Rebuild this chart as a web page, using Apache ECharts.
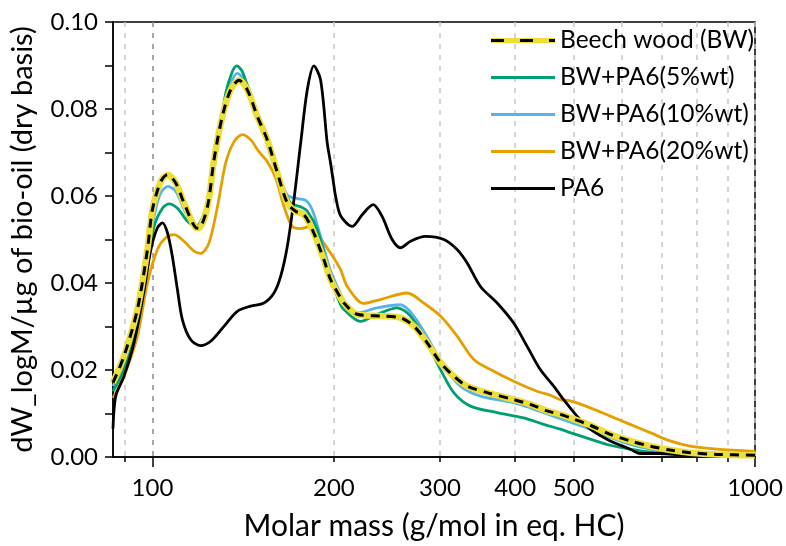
<!DOCTYPE html>
<html><head><meta charset="utf-8">
<script src="https://cdn.jsdelivr.net/npm/echarts@6/dist/echarts.min.js"></script>
<style>html,body{margin:0;padding:0;background:#fff}#c{width:786px;height:546px}</style>
</head><body><div id="c"></div>
<script>
// ---- data: [molar mass (g/mol), dW/dlogM] ----
const seriesNames = ['Beech wood (BW)', 'BW+PA6(5%wt)', 'BW+PA6(10%wt)', 'BW+PA6(20%wt)', 'PA6'];
const bwData = [[86,0.0171],[89.7,0.0232],[94.4,0.0339],[98.1,0.0477],[100,0.0569],[103.2,0.0633],[105.9,0.0649],[109.3,0.0630],[112.8,0.0584],[118,0.0527],[119.3,0.0526],[123.4,0.0576],[126.5,0.0683],[130.6,0.0783],[134.8,0.0844],[139.2,0.0866],[143.7,0.0844],[149.3,0.0783],[155.1,0.0729],[161.2,0.0653],[167.4,0.0584],[172.8,0.0565],[178.4,0.0557],[184.2,0.0523],[192.5,0.0454],[197.5,0.0408],[205.2,0.0366],[207.8,0.0354],[218.6,0.0328],[239,0.0324],[258,0.0320],[271.5,0.0301],[285.6,0.0263],[300.6,0.0217],[316.2,0.0186],[332.9,0.0163],[359.3,0.0148],[397.6,0.0132],[423.7,0.0121],[451.6,0.0106],[475.2,0.0098],[493.6,0.0090],[532.8,0.0073],[575.1,0.0052],[620.6,0.0037],[669.9,0.0025],[722.9,0.0016],[780.2,0.0010],[864.3,0.0006],[1000,0.0004]];
const pa5Data = [[86,0.0151],[89.7,0.0201],[94.4,0.0301],[98.1,0.0438],[100.6,0.0530],[103.9,0.0572],[106.5,0.0582],[110,0.0572],[114.3,0.0542],[118,0.0530],[123.4,0.0584],[128.2,0.0714],[132.3,0.0836],[135.7,0.0886],[138,0.0899],[141,0.0886],[145.6,0.0829],[151.2,0.0771],[157.1,0.0706],[163.2,0.0630],[169.5,0.0584],[176.2,0.0575],[180.7,0.0565],[187.7,0.0523],[195,0.0440],[197.5,0.0410],[205.2,0.0350],[207.8,0.0339],[221.4,0.0312],[236,0.0328],[254.7,0.0343],[268.1,0.0324],[285.6,0.0263],[300.6,0.0201],[316.2,0.0148],[337.1,0.0117],[373.3,0.0102],[413,0.0090],[445.8,0.0075],[475.2,0.0064],[493.6,0.0056],[532.8,0.0041],[575.1,0.0027],[620.6,0.0018],[669.9,0.0011],[722.9,0.0008],[780.2,0.0005],[1000,0.0003]];
const pa10Data = [[86,0.0163],[89.7,0.0217],[94.4,0.0324],[98.1,0.0465],[100.6,0.0553],[103.2,0.0607],[106.1,0.0622],[109.3,0.0611],[113.6,0.0561],[118,0.0530],[119.3,0.0528],[123.4,0.0578],[126.5,0.0686],[130.6,0.0790],[134.8,0.0858],[138.3,0.0882],[143.7,0.0855],[149.3,0.0790],[155.1,0.0737],[161.2,0.0660],[167.4,0.0602],[173.9,0.0594],[179.6,0.0590],[184.2,0.0568],[190.1,0.0507],[197.5,0.0428],[205.2,0.0375],[207.8,0.0360],[218.6,0.0331],[236,0.0343],[258,0.0350],[271.5,0.0324],[289.3,0.0263],[304.4,0.0209],[324.4,0.0163],[350.2,0.0140],[397.6,0.0125],[423.7,0.0113],[475.2,0.0088],[493.6,0.0080],[532.8,0.0064],[575.1,0.0045],[620.6,0.0029],[669.9,0.0018],[722.9,0.0011],[780.2,0.0008],[1000,0.0004]];
const pa20Data = [[86,0.0136],[89.7,0.0186],[94.4,0.0278],[98.1,0.0400],[101.9,0.0477],[105.2,0.0504],[108.6,0.0511],[112.8,0.0496],[117.2,0.0473],[120.2,0.0468],[124.1,0.0492],[128.2,0.0576],[132.3,0.0676],[136.6,0.0725],[141,0.0741],[145.6,0.0729],[150.2,0.0702],[155.1,0.0679],[160.2,0.0641],[165.3,0.0576],[170.6,0.0530],[176.2,0.0525],[183,0.0530],[188.9,0.0507],[197.5,0.0469],[205.2,0.0431],[210.5,0.0392],[224.2,0.0353],[239,0.0362],[264.7,0.0377],[281.9,0.0354],[300.6,0.0324],[320.3,0.0278],[341.4,0.0224],[363.8,0.0201],[397.6,0.0174],[434.7,0.0151],[457.4,0.0142],[475.2,0.0132],[493.6,0.0129],[532.8,0.0113],[575.1,0.0094],[620.6,0.0075],[669.9,0.0056],[722.9,0.0037],[780.2,0.0025],[864.3,0.0018],[1000,0.0013]];
const pa6Data = [[86,0.0065],[86.9,0.0140],[89.7,0.0186],[93.2,0.0263],[96.9,0.0385],[99.4,0.0477],[101.9,0.0527],[103.9,0.0538],[105.9,0.0515],[107.9,0.0461],[110,0.0385],[112.1,0.0316],[115.7,0.0270],[120.2,0.0256],[124.9,0.0266],[131.5,0.0301],[138.3,0.0335],[145.6,0.0347],[153.1,0.0354],[159.1,0.0377],[163.2,0.0415],[167.4,0.0484],[171.7,0.0591],[176.2,0.0722],[180.7,0.0844],[185.3,0.0899],[190.1,0.0867],[195,0.0722],[197.5,0.0676],[200,0.0625],[201.3,0.0600],[205.2,0.0555],[214.5,0.0530],[222.9,0.0557],[232.4,0.0580],[240.5,0.0553],[249.9,0.0500],[258,0.0481],[268.1,0.0496],[283.8,0.0507],[304.4,0.0500],[320.3,0.0477],[332.9,0.0446],[350.2,0.0392],[373.3,0.0354],[397.6,0.0308],[418.4,0.0255],[440.2,0.0201],[463.3,0.0163],[481.2,0.0132],[506.5,0.0094],[532.8,0.0064],[575.1,0.0037],[620.6,0.0018],[644.8,0.0008],[695.9,0.0008],[751.1,0.0005],[810.5,0.0003],[1000,0.0002]];
const xTickValues = [90,100,200,300,400,500,600,700,800,900,1000];
const xLabelValues = [100,200,300,400,500,1000];
const xLongTicks = [100,1000];
const xTitle = 'Molar mass (g/mol in eq. HC)';
const yTitle = 'dW_logM/\u00b5g of bio-oil (dry basis)';

const FONT = 'Lato';
const C = { bw: '#ECDF37', p5: '#009E73', p10: '#56B4E9', p20: '#E69F00', pa6: '#000000' };

function svgIcon(inner) {
  const svg = '<svg xmlns="http://www.w3.org/2000/svg" width="64" height="14">' + inner + '</svg>';
  return 'image://data:image/svg+xml;charset=utf-8,' + encodeURIComponent(svg);
}
const bwIcon = svgIcon('<rect x="0" y="4.5" width="64" height="5" fill="' + C.bw + '"/>' +
  '<line x1="0" y1="7" x2="64" y2="7" stroke="#000" stroke-width="3" stroke-dasharray="13 16"/>');
const lineIcon = c => svgIcon('<line x1="0" y1="7" x2="64" y2="7" stroke="' + c + '" stroke-width="3"/>');

const chart = echarts.init(document.getElementById('c'), null, { renderer: 'canvas' });
const lineBase = { type: 'line', symbol: 'none', smooth: 0.3, xAxisIndex: 0, yAxisIndex: 0 };
chart.setOption({
  animation: false,
  textStyle: { fontFamily: FONT, color: '#000' },
  grid: { left: 112, right: 31, top: 22, bottom: 88, show: true, borderColor: '#000', borderWidth: 1.5, containLabel: false },
  legend: {
    orient: 'vertical', left: 491, top: 28, padding: 0, itemWidth: 64, itemHeight: 14, itemGap: 12,
    textStyle: { fontFamily: FONT, fontSize: 24.5, color: '#000', lineHeight: 24 },
    data: [
      { name: seriesNames[0], icon: bwIcon },
      { name: seriesNames[1], icon: lineIcon(C.p5) },
      { name: seriesNames[2], icon: lineIcon(C.p10) },
      { name: seriesNames[3], icon: lineIcon(C.p20) },
      { name: seriesNames[4], icon: lineIcon(C.pa6) }
    ]
  },
  xAxis: [{
    type: 'log', logBase: 10, min: 86, max: 1000,
    name: xTitle, nameLocation: 'middle', nameGap: 54,
    nameTextStyle: { fontFamily: FONT, fontSize: 30, color: '#000' },
    axisLine: { show: true, lineStyle: { color: '#000', width: 1.5 } },
    axisTick: { show: true, customValues: xTickValues, length: 5, lineStyle: { color: '#000', width: 1.5 } },
    axisLabel: { customValues: xLabelValues, fontFamily: FONT, fontSize: 24, color: '#000', margin: 19, formatter: v => String(Math.round(v)) },
    splitLine: { show: true, lineStyle: { type: [5, 6], width: 1.5, color: xTickValues.map(v => v === 100 ? '#8c8c8c' : '#c8c8c8') } },
    minorTick: { show: false }, minorSplitLine: { show: false }
  }, {
    type: 'log', logBase: 10, min: 86, max: 1000, position: 'bottom',
    axisLine: { show: false },
    axisTick: { show: true, customValues: xLongTicks, length: 10, lineStyle: { color: '#000', width: 1.5 } },
    axisLabel: { show: false }, splitLine: { show: false }
  }],
  yAxis: {
    type: 'value', min: 0, max: 0.1, interval: 0.02,
    name: yTitle, nameLocation: 'middle', nameGap: 76,
    nameTextStyle: { fontFamily: FONT, fontSize: 29, color: '#000' },
    axisLine: { show: true, lineStyle: { color: '#000', width: 1.5 } },
    axisTick: { show: true, length: 8, lineStyle: { color: '#000', width: 1.5 } },
    minorTick: { show: true, splitNumber: 2, length: 8, lineStyle: { color: '#000', width: 1.5 } },
    axisLabel: { fontFamily: FONT, fontSize: 24, color: '#000', margin: 15, formatter: v => v.toFixed(2) },
    splitLine: { show: false }
  },
  series: [
    Object.assign({}, lineBase, { name: seriesNames[3], data: pa20Data, lineStyle: { color: C.p20, width: 2.8 }, itemStyle: { color: C.p20 } }),
    Object.assign({}, lineBase, { name: seriesNames[2], data: pa10Data, lineStyle: { color: C.p10, width: 2.8 }, itemStyle: { color: C.p10 } }),
    Object.assign({}, lineBase, { name: seriesNames[1], data: pa5Data, lineStyle: { color: C.p5, width: 2.8 }, itemStyle: { color: C.p5 } }),
    Object.assign({}, lineBase, { name: seriesNames[4], data: pa6Data, lineStyle: { color: C.pa6, width: 2.8 }, itemStyle: { color: C.pa6 } }),
    Object.assign({}, lineBase, { name: seriesNames[0], data: bwData, lineStyle: { color: C.bw, width: 6.5 }, itemStyle: { color: C.bw } }),
    Object.assign({}, lineBase, { name: seriesNames[0], data: bwData, lineStyle: { color: '#000', width: 3, type: [9, 7] }, itemStyle: { color: '#000' } })
  ]
});
</script></body></html>
